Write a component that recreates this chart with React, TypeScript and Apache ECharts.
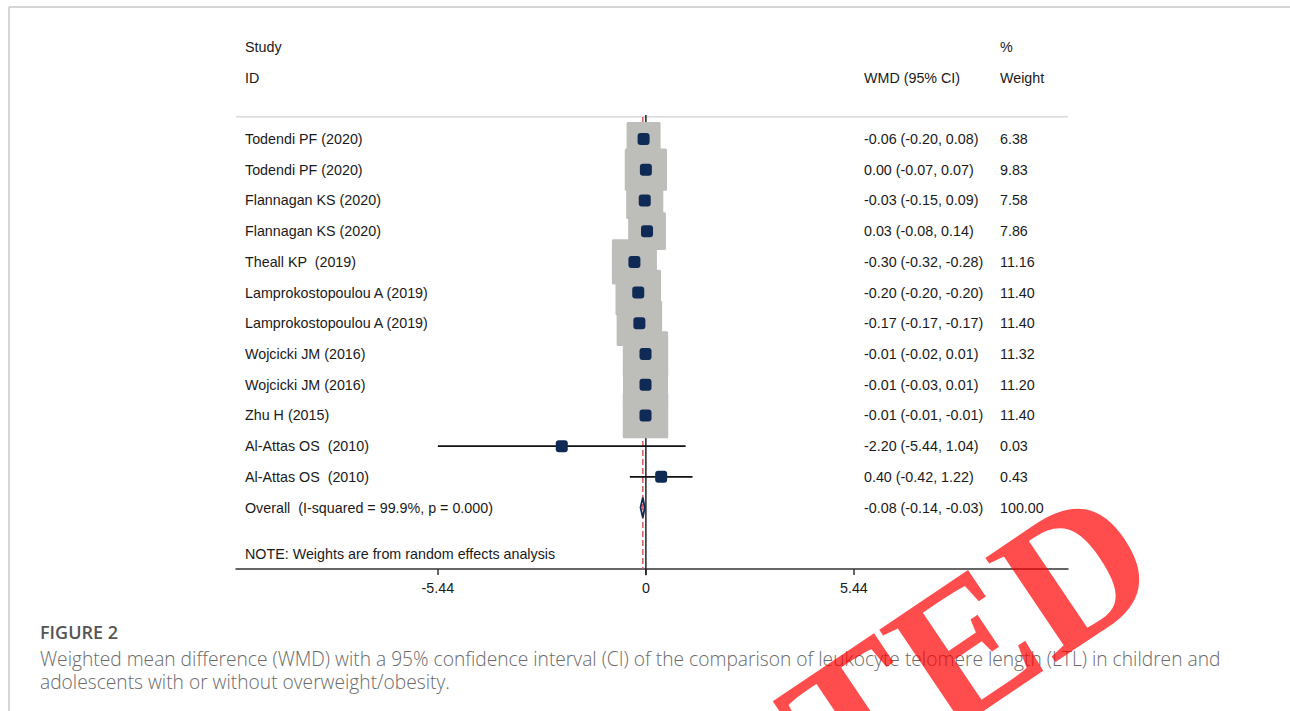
import React, { useEffect, useRef } from "react";
import * as echarts from "echarts";

// ---- data ----
const studies = [
  "Todendi PF (2020)",
  "Todendi PF (2020)",
  "Flannagan KS (2020)",
  "Flannagan KS (2020)",
  "Theall KP  (2019)",
  "Lamprokostopoulou A (2019)",
  "Lamprokostopoulou A (2019)",
  "Wojcicki JM (2016)",
  "Wojcicki JM (2016)",
  "Zhu H (2015)",
  "Al-Attas OS  (2010)",
  "Al-Attas OS  (2010)",
];
const wmd = [-0.06, 0.0, -0.03, 0.03, -0.3, -0.2, -0.17, -0.01, -0.01, -0.01, -2.2, 0.4];
const lower = [-0.2, -0.07, -0.15, -0.08, -0.32, -0.2, -0.17, -0.02, -0.03, -0.01, -5.44, -0.42];
const upper = [0.08, 0.07, 0.09, 0.14, -0.28, -0.2, -0.17, 0.01, 0.01, -0.01, 1.04, 1.22];
const weights = [6.38, 9.83, 7.58, 7.86, 11.16, 11.4, 11.4, 11.32, 11.2, 11.4, 0.03, 0.43];
const overall = { label: "Overall  (I-squared = 99.9%, p = 0.000)", wmd: -0.08, lower: -0.14, upper: -0.03, weight: 100.0 };
const noteText = "NOTE: Weights are from random effects analysis";
const xTicks = [-5.44, 0, 5.44];
const headers = { study: "Study", id: "ID", ci: "WMD (95% CI)", pct: "%", weight: "Weight" };
const captionTitle = "FIGURE 2";
const captionLines = [
  "Weighted mean difference (WMD) with a 95% confidence interval (CI) of the comparison of leukocyte telomere length (LTL) in children and",
  "adolescents with or without overweight/obesity.",
];
const watermark = "RETRACTED";

const fmt = (v: number) => v.toFixed(2);

const X_MIN = -10.72;
const X_MAX = 11.04;
const Y_MIN = -3.55;
const Y_MAX = 14.0;
const OVERALL_ROW = studies.length;
const NOTE_ROW = studies.length + 1.5;
const SEP_ROW = -0.72;

const FONT = '"Liberation Sans", Arial, sans-serif';
const NAVY = "#0f2a55";
const TXT = 14.3;

export default function App() {
  const ref = useRef<HTMLDivElement>(null);
  useEffect(() => {
    if (!ref.current) return;
    const chart = echarts.init(ref.current, null, { renderer: "svg" });

    const rowIdx = studies.map((_, i) => i);

    const textRows: any[] = [];
    textRows.push({ value: [X_MIN, -3], cols: [headers.study, "", headers.pct] });
    textRows.push({ value: [X_MIN, -2], cols: [headers.id, headers.ci, headers.weight] });
    studies.forEach((s, i) => {
      textRows.push({
        value: [X_MIN, i],
        cols: [s, `${fmt(wmd[i])} (${fmt(lower[i])}, ${fmt(upper[i])})`, fmt(weights[i])],
      });
    });
    textRows.push({
      value: [X_MIN, OVERALL_ROW],
      cols: [overall.label, `${fmt(overall.wmd)} (${fmt(overall.lower)}, ${fmt(overall.upper)})`, fmt(overall.weight)],
    });
    textRows.push({ value: [X_MIN, NOTE_ROW], cols: [noteText, "", ""] });

    const colOffsets = [9, 628, 764];

    const option: any = {
      animation: false,
      grid: { left: 236, right: 222, top: 30, bottom: 142 },
      xAxis: {
        type: "value",
        min: X_MIN,
        max: X_MAX,
        splitLine: { show: false },
        axisLine: { show: true, onZero: false, lineStyle: { color: "#333", width: 1.5 } },
        axisTick: { show: true, customValues: xTicks, length: 6, lineStyle: { color: "#333", width: 1.5 } },
        axisLabel: {
          customValues: xTicks,
          formatter: (v: number) => (v === 0 ? "0" : fmt(v)),
          color: "#1a1a1a",
          fontFamily: FONT,
          fontSize: TXT,
          margin: 12,
        },
      },
      yAxis: { type: "value", min: Y_MIN, max: Y_MAX, inverse: true, show: false },
      series: [
        {
          name: "separator",
          type: "custom",
          clip: false,
          data: [[X_MIN, SEP_ROW, X_MAX]],
          encode: { x: [0, 2], y: 1 },
          renderItem: (p: any, api: any) => {
            const a = api.coord([api.value(0), api.value(1)]);
            const b = api.coord([api.value(2), api.value(1)]);
            return { type: "line", shape: { x1: a[0], y1: a[1], x2: b[0], y2: b[1] }, style: { stroke: "#cfcfcf", lineWidth: 1.2 } };
          },
        },
        {
          name: "refLines",
          type: "custom",
          clip: false,
          data: [
            [0, -0.78, Y_MAX + 0.2, 0],
            [overall.wmd, SEP_ROW, Y_MAX, 1],
          ],
          encode: { x: 0, y: [1, 2] },
          renderItem: (p: any, api: any) => {
            const a = api.coord([api.value(0), api.value(1)]);
            const b = api.coord([api.value(0), api.value(2)]);
            const dashed = api.value(3) === 1;
            return {
              type: "line",
              shape: { x1: a[0], y1: a[1], x2: b[0], y2: b[1] },
              style: dashed
                ? { stroke: "#d65c5c", lineWidth: 1.5, lineDash: [6, 3] }
                : { stroke: "#222", lineWidth: 1.5 },
            };
          },
        },
        {
          name: "boxes",
          type: "custom",
          clip: false,
          data: rowIdx.map((i) => [wmd[i], i, weights[i]]),
          encode: { x: 0, y: 1 },
          renderItem: (p: any, api: any) => {
            const c = api.coord([api.value(0), api.value(1)]);
            const side = 45.5 * Math.sqrt(api.value(2) / 11.4);
            return {
              type: "rect",
              shape: { x: c[0] - side / 2, y: c[1] - side / 2, width: side, height: side, r: 1.5 },
              style: { fill: "#bdbdba" },
            };
          },
        },
        {
          name: "ci",
          type: "custom",
          clip: false,
          data: rowIdx.map((i) => [lower[i], upper[i], i]),
          encode: { x: [0, 1], y: 2 },
          renderItem: (p: any, api: any) => {
            const a = api.coord([api.value(0), api.value(2)]);
            const b = api.coord([api.value(1), api.value(2)]);
            return { type: "line", shape: { x1: a[0], y1: a[1], x2: b[0], y2: b[1] }, style: { stroke: "#111", lineWidth: 1.6 } };
          },
        },
        {
          name: "points",
          type: "scatter",
          symbol: "roundRect",
          symbolSize: 12,
          itemStyle: { color: NAVY, opacity: 1 },
          data: rowIdx.map((i) => [wmd[i], i]),
        },
        {
          name: "overall",
          type: "custom",
          clip: false,
          data: [[overall.wmd, OVERALL_ROW, overall.lower, overall.upper]],
          encode: { x: [0, 2, 3], y: 1 },
          renderItem: (p: any, api: any) => {
            const c = api.coord([api.value(0), api.value(1)]);
            const l = api.coord([api.value(2), api.value(1)]);
            const u = api.coord([api.value(3), api.value(1)]);
            const h = 10;
            return {
              type: "polygon",
              shape: { points: [[l[0], c[1]], [c[0], c[1] - h], [u[0], c[1]], [c[0], c[1] + h]] },
              style: { fill: "none", stroke: NAVY, lineWidth: 1.8 },
            };
          },
        },
        {
          name: "texts",
          type: "custom",
          clip: false,
          data: textRows,
          encode: { x: 0, y: 1 },
          renderItem: (p: any, api: any) => {
            const row = textRows[p.dataIndex];
            const c = api.coord([api.value(0), api.value(1)]);
            return {
              type: "group",
              children: row.cols.map((t: string, k: number) => ({
                type: "text",
                x: c[0] + colOffsets[k],
                y: c[1],
                style: { text: t, fill: "#1a1a1a", font: `${TXT}px ${FONT}`, verticalAlign: "middle", align: "left" },
              })),
            };
          },
        },
      ],
      graphic: [
        { type: "line", shape: { x1: 9, y1: 7, x2: 1290, y2: 7 }, style: { stroke: "#c8c8c8", lineWidth: 1.5 } },
        { type: "line", shape: { x1: 9, y1: 7, x2: 9, y2: 711 }, style: { stroke: "#c8c8c8", lineWidth: 1.5 } },
        {
          type: "text",
          x: 40,
          y: 632,
          style: { text: captionTitle, fill: "#555", font: '600 18px "Open Sans", sans-serif', verticalAlign: "middle", lineHeight: 20 },
        },
        {
          type: "text",
          x: 40,
          y: 658,
          style: { text: captionLines[0], fill: "#6a6a6a", font: '300 19.2px "Open Sans", sans-serif', verticalAlign: "middle", lineHeight: 21 },
        },
        {
          type: "text",
          x: 40,
          y: 681,
          style: { text: captionLines[1], fill: "#6a6a6a", font: '300 19.2px "Open Sans", sans-serif', verticalAlign: "middle", lineHeight: 21 },
        },
        {
          type: "text",
          x: 632,
          y: 870,
          rotation: (34 * Math.PI) / 180,
          z: 100,
          style: {
            text: watermark,
            fill: "rgba(255,0,0,0.7)",
            font: 'bold 192px "Liberation Serif", "Times New Roman", serif',
            align: "center",
            verticalAlign: "middle",
          },
        },
      ],
    };
    chart.setOption(option);
    return () => chart.dispose();
  }, []);
  return (
    <div style={{ position: "absolute", left: 0, top: 0, width: 1290, height: 711, background: "#fff" }}>
      <div ref={ref} style={{ width: 1290, height: 711 }} />
    </div>
  );
}
